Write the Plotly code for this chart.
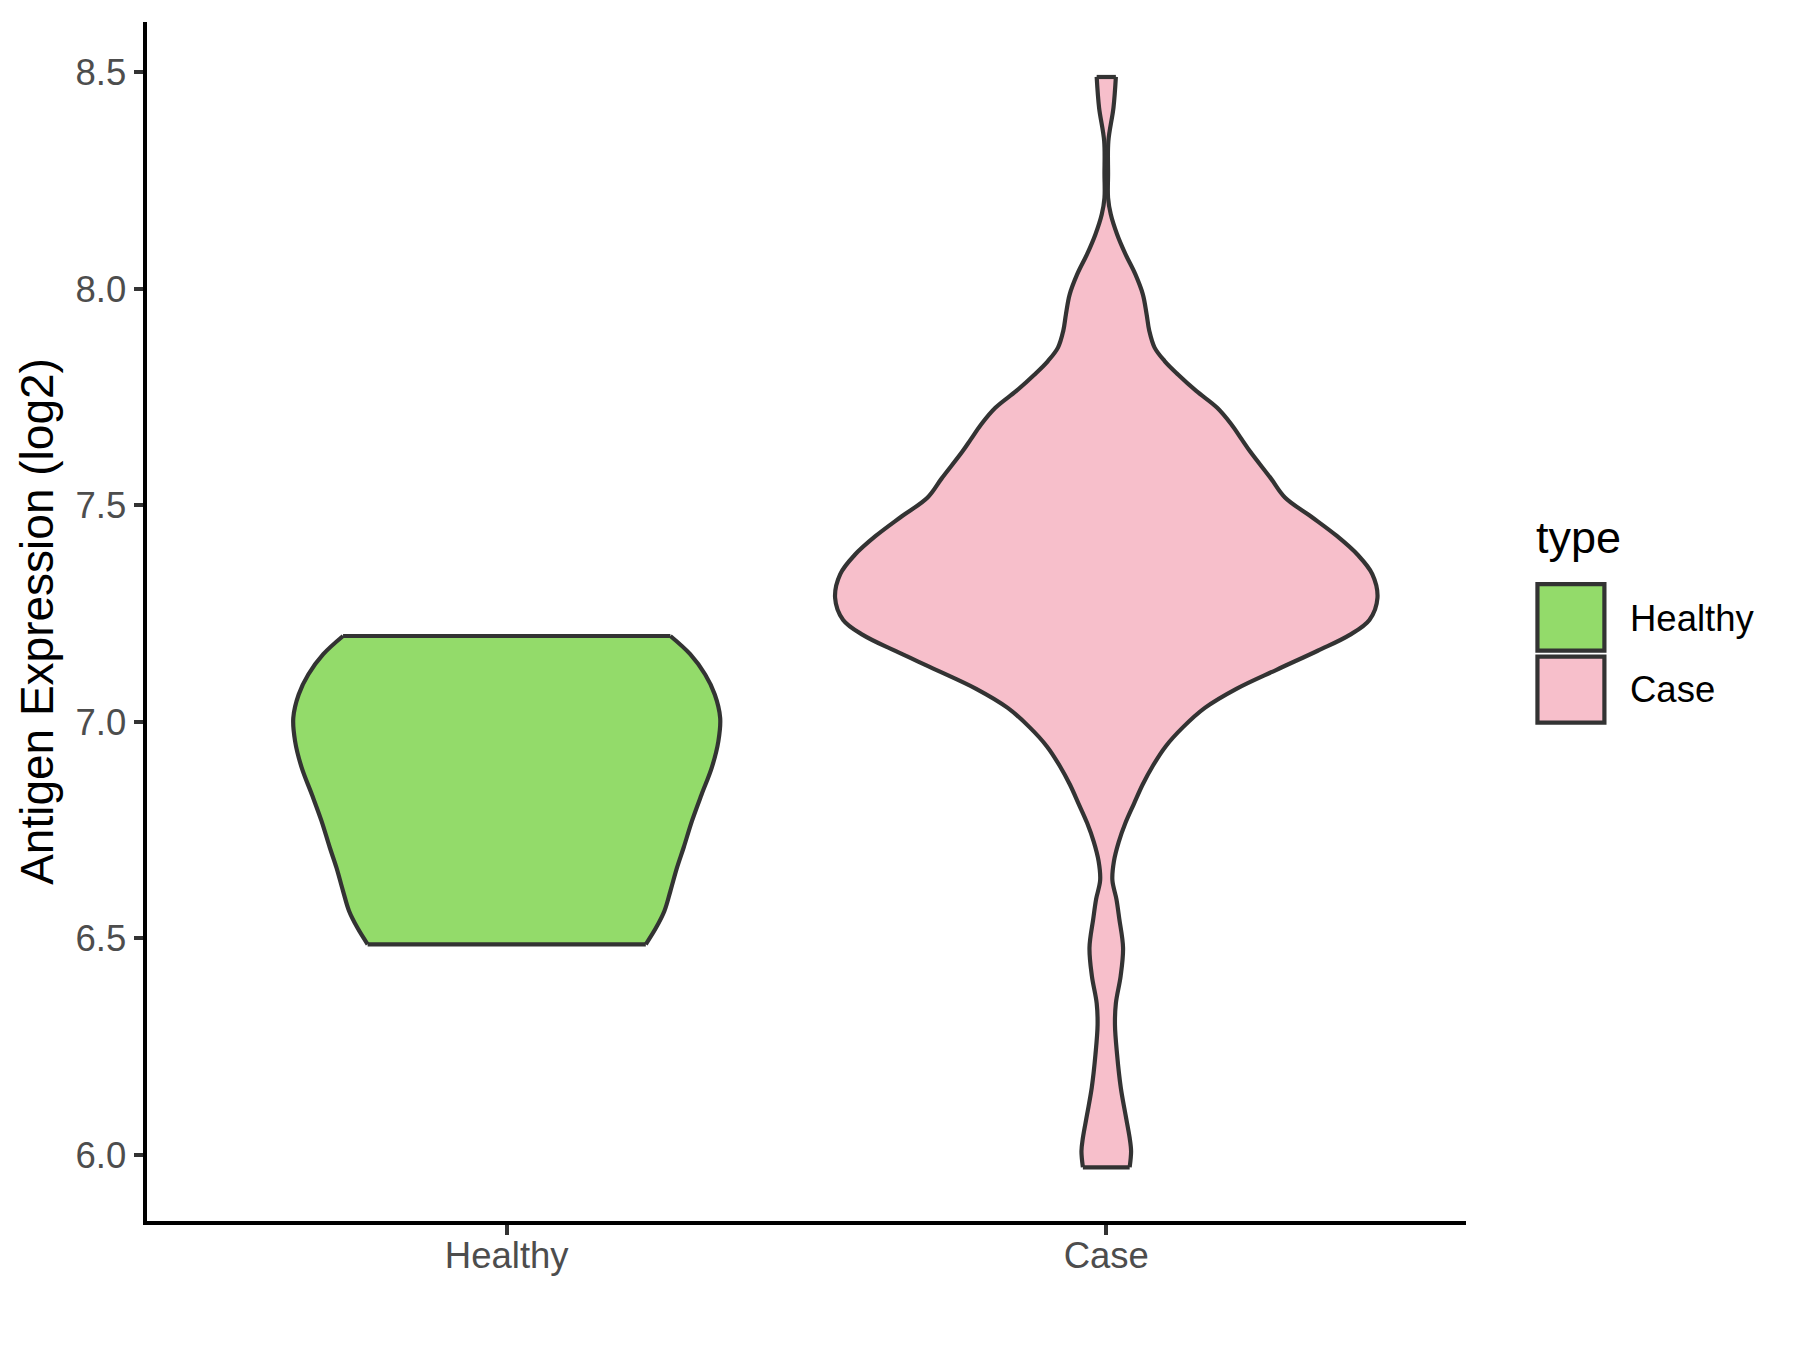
import plotly.graph_objects as go

# ---------------- data ----------------
categories = ["Healthy", "Case"]
fill_colors = ["#93DB6A", "#F7BFCB"]

# violin outline: y value and half-width (in category units), top to bottom
healthy_y = [7.198, 7.156, 7.109, 7.063, 7.009, 6.955, 6.894, 6.832, 6.771,
             6.709, 6.663, 6.609, 6.563, 6.524, 6.486]
healthy_halfwidth = [0.273, 0.306, 0.331, 0.347, 0.356, 0.353, 0.342, 0.325,
                     0.309, 0.295, 0.284, 0.273, 0.263, 0.249, 0.232]

case_y = [8.489, 8.418, 8.341, 8.264, 8.210, 8.172, 8.126, 8.080, 8.033, 7.987,
          7.941, 7.903, 7.864, 7.833, 7.802, 7.764, 7.725, 7.687, 7.652, 7.624,
          7.562, 7.518, 7.474, 7.429, 7.385, 7.341, 7.286, 7.235, 7.200, 7.164,
          7.120, 7.076, 7.032, 6.987, 6.943, 6.899, 6.855, 6.811, 6.766, 6.722,
          6.678, 6.634, 6.590, 6.545, 6.478, 6.413, 6.350, 6.300, 6.232, 6.155,
          6.093, 6.039, 6.008, 5.971]
case_halfwidth = [0.016, 0.012, 0.0035, 0.003, 0.003, 0.0075, 0.018, 0.032, 0.0486,
                  0.061, 0.0673, 0.0717, 0.0806, 0.0973, 0.1196, 0.150, 0.185,
                  0.2085, 0.226, 0.240, 0.2745, 0.298, 0.3415, 0.3846, 0.4197,
                  0.4437, 0.4523, 0.4389, 0.4054, 0.3527, 0.284, 0.217, 0.1644,
                  0.1277, 0.099, 0.078, 0.0607, 0.0463, 0.0319, 0.0207, 0.0128,
                  0.0102, 0.017, 0.0217, 0.028, 0.024, 0.016, 0.0145, 0.018,
                  0.0242, 0.032, 0.039, 0.0414, 0.039]

y_ticks = [6.0, 6.5, 7.0, 7.5, 8.0, 8.5]
y_tick_labels = ["6.0", "6.5", "7.0", "7.5", "8.0", "8.5"]
y_title = "Antigen Expression (log2)"
legend_title = "type"

# ---------------- figure ----------------
W, H = 1784, 1334          # page body adds an 8px margin around the figure
PAGE_OFF = 8
ML, MR, MT, MB = 138.6, 325.5, 14.3, 120.6
PW, PH = W - ML - MR, H - MT - MB
OUTLINE = "#333333"
FONT = "Liberation Sans, Arial, sans-serif"
LW = 4.2


def px_x(v):   # page pixel -> paper x
    return (v - PAGE_OFF - ML) / PW


def px_y(v):   # page pixel -> paper y
    return (H + PAGE_OFF - MB - v) / PH


fig = go.Figure()
series = [(healthy_y, healthy_halfwidth), (case_y, case_halfwidth)]
for i, (cat, (ys, hws)) in enumerate(zip(categories, series)):
    pos = i + 1
    left_x = [pos - w for w in hws]
    right_x = [pos + w for w in hws]
    line = dict(color=OUTLINE, width=LW, shape="spline", smoothing=1.0)
    fig.add_trace(go.Scatter(x=left_x, y=ys, mode="lines", line=line,
                             name=cat, showlegend=False, hoverinfo="skip"))
    fig.add_trace(go.Scatter(x=right_x, y=ys, mode="lines", line=line,
                             fill="tonextx", fillcolor=fill_colors[i],
                             name=cat, showlegend=False, hoverinfo="skip"))
    # flat trimmed ends of the violin
    fig.add_trace(go.Scatter(
        x=[left_x[0], right_x[0], None, left_x[-1], right_x[-1]],
        y=[ys[0], ys[0], None, ys[-1], ys[-1]],
        mode="lines", line=dict(color=OUTLINE, width=LW),
        name=cat, showlegend=False, hoverinfo="skip"))

fig.update_layout(
    width=W, height=H,
    margin=dict(l=ML, r=MR, t=MT, b=MB, autoexpand=False),
    paper_bgcolor="white", plot_bgcolor="white",
    font=dict(family=FONT, color="#4D4D4D"),
    showlegend=False,
)
fig.update_xaxes(
    range=[0.4, 2.6], tickvals=[1, 2], ticktext=categories,
    showgrid=False, zeroline=False, showline=True, linecolor="black", linewidth=4,
    ticks="outside", ticklen=9.5, tickwidth=4, tickcolor=OUTLINE,
    ticklabelstandoff=-10,
    tickfont=dict(size=36.5, color="#4D4D4D", family=FONT),
)
fig.update_yaxes(
    range=[5.847, 8.616], tickvals=y_ticks, ticktext=y_tick_labels,
    showgrid=False, zeroline=False, showline=True, linecolor="black", linewidth=4,
    ticks="outside", ticklen=9.5, tickwidth=4, tickcolor=OUTLINE,
    tickfont=dict(size=36.5, color="#4D4D4D", family=FONT),
    title=dict(text=y_title, font=dict(size=46, color="black", family=FONT), standoff=8.5),
)

# legend drawn as keys + text to match ggplot's large square keys
key_boxes = [(584.5, 651), (657, 723)]
label_centers = [618.5, 690]
for i, cat in enumerate(categories):
    y_top, y_bot = key_boxes[i]
    fig.add_shape(type="rect", xref="paper", yref="paper",
                  x0=px_x(1538), x1=px_x(1605), y0=px_y(y_bot), y1=px_y(y_top),
                  fillcolor=fill_colors[i], line=dict(color=OUTLINE, width=LW))
    fig.add_annotation(xref="paper", yref="paper", x=px_x(1629), y=px_y(label_centers[i]),
                       text=cat, showarrow=False, xanchor="left", yanchor="middle",
                       font=dict(size=36.5, color="black", family=FONT))
fig.add_annotation(xref="paper", yref="paper", x=px_x(1535), y=px_y(538),
                   text=legend_title, showarrow=False, xanchor="left", yanchor="middle",
                   font=dict(size=45, color="black", family=FONT))

fig.write_html("out.html")
